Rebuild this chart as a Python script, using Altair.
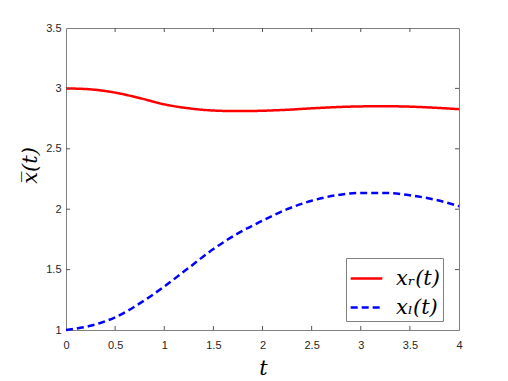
import altair as alt
import pandas as pd

t_vals = [0, 0.25, 0.5, 0.75, 1.0, 1.25, 1.5, 1.75, 2.0, 2.25, 2.5, 2.75, 3.0, 3.25, 3.5, 3.75, 4.0]
xr_vals = [3.0, 2.992, 2.965, 2.92, 2.868, 2.835, 2.817, 2.812, 2.815, 2.823, 2.835, 2.845, 2.851, 2.852, 2.849, 2.840, 2.828]
xl_vals = [1.0, 1.035, 1.105, 1.22, 1.36, 1.515, 1.67, 1.80, 1.905, 2.0, 2.07, 2.115, 2.135, 2.135, 2.115, 2.08, 2.025]
series_names = ["xᵣ(t)", "xₗ(t)"]
x_ticks = [0, 0.5, 1, 1.5, 2, 2.5, 3, 3.5, 4]
y_ticks = [1, 1.5, 2, 2.5, 3, 3.5]

rows = []
for t, a, b in zip(t_vals, xr_vals, xl_vals):
    rows.append({"t": t, "v": a, "s": series_names[0]})
    rows.append({"t": t, "v": b, "s": series_names[1]})
df = pd.DataFrame(rows)

xs = alt.Scale(domain=[0, 4], nice=False, zero=False)
ys = alt.Scale(domain=[1, 3.5], nice=False, zero=False)

SERIF = "DejaVu Serif"

lines = alt.Chart(df).mark_line(strokeWidth=2.5, interpolate="monotone").encode(
    x=alt.X("t:Q", scale=xs, axis=alt.Axis(values=x_ticks, format="~g", labelFlush=False, title="t",
                                           titleX=197, titleY=44, titleBaseline="alphabetic")),
    y=alt.Y("v:Q", scale=ys, axis=alt.Axis(values=y_ticks, format="~g", labelFlush=False, title="x̅(t)",
                                           titleX=-36, titleY=137, titleBaseline="middle")),
    color=alt.Color("s:N", scale=alt.Scale(domain=series_names, range=["#ff0000", "#0000ff"]),
                    legend=alt.Legend(title=None, orient="none", legendX=280, legendY=230)),
    strokeDash=alt.StrokeDash("s:N", scale=alt.Scale(domain=series_names, range=[[1, 0], [7, 4]]),
                              legend=alt.Legend(title=None, orient="none", legendX=280, legendY=230)),
)

# inward tick marks (MATLAB style), derived from tick lists
ytk = pd.DataFrame({"y": y_ticks[1:-1]})
xtk = pd.DataFrame({"x": x_ticks[1:-1]})
tick_style = dict(color="#555555", strokeWidth=1)
yl = alt.Chart(ytk).mark_rule(**tick_style).encode(x=alt.value(0), x2=alt.value(4), y=alt.Y("y:Q", scale=ys))
yr = alt.Chart(ytk).mark_rule(**tick_style).encode(x=alt.value(389), x2=alt.value(393), y=alt.Y("y:Q", scale=ys))
xb = alt.Chart(xtk).mark_rule(**tick_style).encode(y=alt.value(298), y2=alt.value(302), x=alt.X("x:Q", scale=xs))
xt = alt.Chart(xtk).mark_rule(**tick_style).encode(y=alt.value(0), y2=alt.value(4), x=alt.X("x:Q", scale=xs))

chart = alt.layer(lines, yl, yr, xb, xt).properties(
    width=393, height=302,
    padding={"left": 58, "top": 20, "right": 40, "bottom": 50},
    autosize=alt.AutoSizeParams(type="none"),
).configure_view(
    stroke="#808080", strokeWidth=1
).configure_axis(
    grid=False, domain=False, ticks=False,
    labelFont="Liberation Sans", labelFontSize=11, labelColor="#262626",
    titleFont=SERIF, titleFontStyle="italic", titleFontWeight="normal",
    titleFontSize=21, titleColor="#000000",
).configure_axisX(labelPadding=9).configure_axisY(labelPadding=5).configure_legend(
    fillColor="white", strokeColor="#808080", padding=3, cornerRadius=0,
    labelFont=SERIF, labelFontStyle="italic", labelFontWeight="normal", labelFontSize=21, labelColor="#000000",
    symbolType="stroke", symbolSize=1000, symbolStrokeWidth=2.5, labelOffset=12, rowPadding=1,
)

chart.save("out.html", embed_options={"renderer": "svg", "actions": False})
